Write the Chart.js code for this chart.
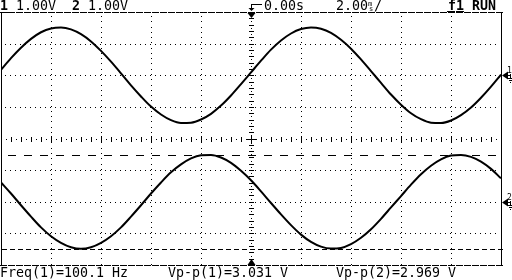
<!DOCTYPE html>
<html>
<head>
<meta charset="utf-8">
<script src="https://cdn.jsdelivr.net/npm/chart.js@4.4.0/dist/chart.umd.min.js"></script>
<style>
  html, body { margin: 0; padding: 0; background: #fff; }
  #wrap { width: 512px; height: 280px; }
</style>
</head>
<body>
<div id="wrap"><canvas id="scope" width="512" height="280"></canvas></div>
<script>
// time base: 2.00 ms/div, 10 divisions, trigger at centre
const timeMs = [-10, -9.6, -9.2, -8.8, -8.4, -8, -7.6, -7.2, -6.8, -6.4, -6, -5.6, -5.2, -4.8, -4.4, -4,
  -3.6, -3.2, -2.8, -2.4, -2, -1.6, -1.2, -0.8, -0.4, 0, 0.4, 0.8, 1.2, 1.6, 2, 2.4, 2.8, 3.2, 3.6, 4,
  4.4, 4.8, 5.2, 5.6, 6, 6.4, 6.8, 7.2, 7.6, 8, 8.4, 8.8, 9.2, 9.6, 10];

// channel voltages (1.00 V/div)
const ch1Volts = [0.17, 0.54, 0.87, 1.15, 1.36, 1.48, 1.51, 1.45, 1.30, 1.07, 0.77, 0.43, 0.06, -0.32, -0.67,
  -0.99, -1.24, -1.42, -1.51, -1.50, -1.40, -1.22, -0.96, -0.64, -0.28, 0.09, 0.46, 0.81, 1.10, 1.32, 1.46,
  1.51, 1.47, 1.34, 1.12, 0.84, 0.50, 0.13, -0.24, -0.61, -0.93, -1.20, -1.39, -1.50, -1.51, -1.43, -1.26,
  -1.02, -0.71, -0.36, 0.02];
const ch2Volts = [0.61, 0.26, -0.11, -0.47, -0.81, -1.09, -1.30, -1.44, -1.49, -1.44, -1.30, -1.09, -0.81,
  -0.47, -0.11, 0.26, 0.61, 0.93, 1.18, 1.37, 1.47, 1.48, 1.40, 1.23, 0.98, 0.68, 0.33, -0.04, -0.40, -0.74,
  -1.04, -1.27, -1.42, -1.48, -1.46, -1.34, -1.14, -0.87, -0.54, -0.18, 0.18, 0.54, 0.87, 1.14, 1.34, 1.46,
  1.48, 1.42, 1.27, 1.04, 0.74];

// channel ground levels (divisions from centre)
const ch1Offset = 2;
const ch2Offset = -2;

// Vp-p cursor levels for channel 2 (divisions)
const cursorLevels = [-0.53, -3.50];

const xDivisions = [-10, -8, -6, -4, -2, 0, 2, 4, 6, 8, 10];
const yDivisions = [-4, -3, -2, -1, 0, 1, 2, 3, 4];

const headerLeft = ['1', '1.00V', '2', '1.00V'];
const headerTime = ['0.00s', '2.00', 'm', 's', '/'];
const headerRight = ['f', '1', 'RUN'];
const footer = ['Freq(1)=100.1 Hz', 'Vp-p(1)=3.031 V', 'Vp-p(2)=2.969 V'];

const FONT = '13.3px "DejaVu Sans Mono", monospace';
const FONT_B = 'bold 13.3px "DejaVu Sans Mono", monospace';

const scopeGrid = {
  id: 'scopeGrid',
  beforeDatasetsDraw(chart) {
    const { ctx, chartArea: a, scales: { x, y } } = chart;
    const xDiv = x.getPixelForValue(2) - x.getPixelForValue(0);
    const yDiv = y.getPixelForValue(-1) - y.getPixelForValue(0);
    const cx = Math.round(x.getPixelForValue(0));
    const cy = Math.round(y.getPixelForValue(0));
    ctx.save();
    ctx.fillStyle = '#000';

    // dotted vertical lines
    xDivisions.forEach(t => {
      if (t === 0 || t === -10 || t === 10) return;
      const px = Math.round(x.getPixelForValue(t));
      for (let py = a.top + 4; py < a.bottom - 1; py += yDiv / 6) {
        if (Math.abs(Math.round(py) - cy) < 4) continue;
        ctx.fillRect(px, Math.round(py), 1, 1);
      }
    });
    // dotted horizontal lines
    yDivisions.forEach(v => {
      if (v === 0 || v === -4 || v === 4) return;
      const py = Math.round(y.getPixelForValue(v));
      for (let px = a.left + 4; px < a.right - 1; px += xDiv / 10) {
        if (Math.abs(Math.round(px) - cx) < 3) continue;
        ctx.fillRect(Math.round(px), py, 1, 1);
      }
    });
    // centre horizontal axis with minor ticks
    for (let i = 1; i < 100; i++) {
      const px = Math.round(a.left + i * xDiv / 10);
      if (px === cx) continue;
      if (i % 10 === 0) ctx.fillRect(px, cy - 3, 1, 7);
      else if (i % 2 === 0) ctx.fillRect(px, cy - 2, 1, 5);
      else ctx.fillRect(px, cy, 1, 1);
    }
    // centre vertical axis with minor ticks
    for (let i = 1; i < 40; i++) {
      const py = Math.round(a.top + i * yDiv / 5);
      if (py === cy) continue;
      ctx.fillRect(cx - 2, py, 5, 1);
      const mid = Math.round(a.top + (i - 0.5) * yDiv / 5);
      ctx.fillRect(cx, mid, 1, 1);
    }
    ctx.fillRect(cx, Math.round(a.bottom - yDiv / 10), 1, 1);
    ctx.fillRect(cx - 4, cy, 9, 1);
    ctx.fillRect(cx, cy - 4, 1, 9);

    // frame: solid sides, dashed top and bottom
    ctx.fillRect(a.left, a.top, 1, a.bottom - a.top);
    ctx.fillRect(a.right, a.top, 1, a.bottom - a.top + 1);
    for (let px = 0; px < a.right; px += 8) {
      ctx.fillRect(px, a.top, 7, 1);
      ctx.fillRect(px, a.bottom, 7, 1);
    }
    ctx.fillRect(0, a.top, 8, 1);

    // channel 2 Vp-p cursors
    const c1 = Math.round(y.getPixelForValue(cursorLevels[0]));
    for (let px = 8; px < a.right; px += 16) ctx.fillRect(px, c1, 8, 1);
    const c2 = Math.round(y.getPixelForValue(cursorLevels[1]));
    for (let px = 2; px < a.right; px += 8) ctx.fillRect(px, c2, 5, 1);

    // trigger markers top and bottom
    ctx.beginPath();
    ctx.moveTo(cx - 3.5, a.top + 1); ctx.lineTo(cx + 4.5, a.top + 1); ctx.lineTo(cx + 0.5, a.top + 6);
    ctx.closePath(); ctx.fill();
    ctx.beginPath();
    ctx.moveTo(cx - 3.5, a.bottom); ctx.lineTo(cx + 4.5, a.bottom); ctx.lineTo(cx + 0.5, a.bottom - 6);
    ctx.closePath(); ctx.fill();
    // delay reference arrow
    ctx.fillRect(cx, 4, 11, 1);
    ctx.fillRect(cx, 4, 1, 5);
    ctx.beginPath();
    ctx.moveTo(cx - 2.5, 8); ctx.lineTo(cx + 3.5, 8); ctx.lineTo(cx + 0.5, 11);
    ctx.closePath(); ctx.fill();

    // ground markers on the right
    [[ch1Offset, '1'], [ch2Offset, '2']].forEach(([lvl, lab]) => {
      const py = Math.round(y.getPixelForValue(lvl));
      const px = a.right + 1;
      ctx.beginPath();
      ctx.moveTo(px, py + 0.5); ctx.lineTo(px + 6, py - 3.5); ctx.lineTo(px + 6, py + 4.5);
      ctx.closePath(); ctx.fill();
      ctx.fillRect(px + 6, py, 2, 1);
      ctx.fillRect(px + 8, py - 1, 1, 4);
      ctx.fillRect(px + 6, py + 3, 5, 1);
      ctx.fillRect(px + 7, py + 5, 3, 1);
      ctx.fillRect(px + 8, py + 7, 1, 1);
      ctx.font = '8px "DejaVu Sans Mono", monospace';
      ctx.textBaseline = 'alphabetic';
      ctx.fillText(lab, px + 5, py - 2);
    });
    ctx.restore();
  },
  afterDraw(chart) {
    const { ctx } = chart;
    ctx.save();
    ctx.fillStyle = '#000';
    ctx.textBaseline = 'alphabetic';
    // header
    ctx.font = FONT_B; ctx.fillText(headerLeft[0], 0, 10);
    ctx.font = FONT; ctx.fillText(headerLeft[1], 16, 10);
    ctx.font = FONT_B; ctx.fillText(headerLeft[2], 72, 10);
    ctx.font = FONT; ctx.fillText(headerLeft[3], 88, 10);
    ctx.fillText(headerTime[0], 264, 10);
    ctx.fillText(headerTime[1], 336, 10);
    ctx.font = '7px "DejaVu Sans Mono", monospace';
    ctx.fillText(headerTime[2], 368, 6);
    ctx.fillText(headerTime[3], 369, 11);
    ctx.font = FONT; ctx.fillText(headerTime[4], 374, 10);
    ctx.font = FONT_B;
    ctx.fillText(headerRight[0], 448, 10);
    ctx.fillRect(447, 11, 8, 1);
    ctx.fillText(headerRight[1], 456, 10);
    ctx.fillRect(456, 11, 8, 1);
    ctx.fillText(headerRight[2], 472, 10);
    // footer
    ctx.font = FONT;
    ctx.fillText(footer[0], 0, 277);
    ctx.fillText(footer[1], 168, 277);
    ctx.fillText(footer[2], 336, 277);
    ctx.restore();
  }
};

const ctx = document.getElementById('scope').getContext('2d');
new Chart(ctx, {
  type: 'line',
  data: {
    datasets: [
      {
        label: 'CH1',
        data: timeMs.map((t, i) => ({ x: t, y: ch1Volts[i] + ch1Offset })),
        borderColor: '#000',
        borderWidth: 2,
        pointRadius: 0,
        cubicInterpolationMode: 'monotone'
      },
      {
        label: 'CH2',
        data: timeMs.map((t, i) => ({ x: t, y: ch2Volts[i] + ch2Offset })),
        borderColor: '#000',
        borderWidth: 2,
        pointRadius: 0,
        cubicInterpolationMode: 'monotone'
      }
    ]
  },
  options: {
    responsive: false,
    animation: false,
    devicePixelRatio: 1,
    layout: { padding: { left: 1, right: 11, top: 12, bottom: 15 } },
    plugins: { legend: { display: false }, tooltip: { enabled: false } },
    scales: {
      x: { type: 'linear', min: -10, max: 10, display: false },
      y: { type: 'linear', min: -4, max: 4, display: false }
    }
  },
  plugins: [scopeGrid]
});
</script>
</body>
</html>
